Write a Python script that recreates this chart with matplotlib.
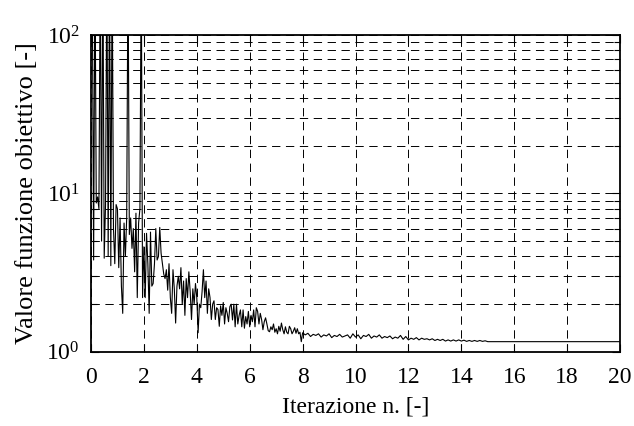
import numpy as np
import matplotlib.pyplot as plt

plt.rcParams['font.family'] = ['Liberation Serif', 'DejaVu Serif']
plt.rcParams['mathtext.fontset'] = 'custom'
plt.rcParams['mathtext.rm'] = 'Liberation Serif'
plt.rcParams['mathtext.it'] = 'Liberation Serif:italic'
plt.rcParams['lines.scale_dashes'] = False

# objective function value per iteration (step 0.05 up to 8, then 0.1)
f_0_2 = [300, 200, 3.8, 300, 8.7, 9.5, 8.0, 300, 5.0, 300,
         3.9, 8.5, 300, 4.0, 300, 3.5, 300, 6.0, 3.6, 8.5,
         8.0, 3.4, 7.0, 2.6, 1.75, 6.5, 4.0, 7.0, 300, 5.5,
         7.0, 4.5, 6.0, 3.2, 7.5, 2.2, 6.5, 8.0, 300, 2.2, 4.6]
f_2_4 = [2.2, 5.6, 3.6, 1.75, 5.7, 2.6, 2.7, 3.6, 6.0, 3.8,
         4.0, 6.1, 4.2, 3.6, 3.1, 2.9, 3.3, 2.45, 3.6, 2.2,
         1.75, 3.3, 2.5, 1.52, 2.6, 3.0, 2.5, 3.4, 2.0, 2.8,
         1.7, 2.9, 2.2, 3.2, 2.4, 1.6, 2.5, 2.0, 2.7, 2.2]
f_4_5 = [1.32, 2.0, 1.9, 2.4, 3.3, 2.2, 2.8, 1.75, 2.5, 2.2,
         1.6, 2.0, 2.1, 1.6, 1.9, 1.85, 1.45, 1.95, 1.7, 2.05,
         1.5, 1.9, 1.75, 1.55, 1.93]
f_5_8 = [2.0, 1.59, 2.0, 1.44, 2.0, 1.5, 1.7, 1.84, 1.44, 1.84,
         1.41, 1.67, 1.5, 1.8, 1.44, 1.7, 1.55, 1.84, 1.44, 1.9,
         1.8, 1.5, 1.75, 1.6, 1.38, 1.55, 1.64, 1.5, 1.36, 1.34,
         1.44, 1.38, 1.5, 1.33, 1.4, 1.30, 1.45, 1.35, 1.52, 1.38,
         1.3, 1.44, 1.33, 1.3, 1.45, 1.4, 1.3, 1.35, 1.42, 1.31,
         1.4, 1.3, 1.33, 1.16, 1.32]
f_8_15 = [1.28, 1.31, 1.25, 1.29, 1.27, 1.3, 1.24, 1.28, 1.26, 1.3,
          1.23, 1.27, 1.25, 1.29, 1.24, 1.26, 1.28, 1.22, 1.3, 1.24,
          1.28, 1.21, 1.27, 1.25, 1.29, 1.22, 1.26, 1.24, 1.28, 1.22,
          1.25, 1.23, 1.26, 1.21, 1.24, 1.22, 1.27, 1.20, 1.25, 1.19,
          1.22, 1.20, 1.23, 1.19, 1.22, 1.20, 1.21, 1.19, 1.21, 1.18,
          1.2, 1.18, 1.2, 1.17, 1.19, 1.17, 1.19, 1.17, 1.19, 1.17,
          1.185, 1.165, 1.18, 1.165, 1.18, 1.165, 1.18, 1.165, 1.175, 1.16]
f_end = 1.16

f_fine = f_0_2 + f_2_4 + f_4_5 + f_5_8
x_fine = np.linspace(0, 8, len(f_fine))
x_coarse = np.linspace(8.1, 15.0, len(f_8_15))
x = np.concatenate([x_fine, x_coarse, [20.0]])
y = np.array(f_fine + f_8_15 + [f_end])

fig = plt.figure(figsize=(6.34, 4.26), dpi=100)
ax = fig.add_axes([0.1435, 0.174, 0.8345, 0.744])

ax.plot(x, y, color='black', lw=0.8)
ax.set_yscale('log')
ax.set_xlim(0, 20)
ax.set_ylim(1, 100)
ax.set_xticks(np.arange(0, 21, 2))

ax.grid(True, which='major', color='black', ls=(0, (6, 4)), lw=0.7)
ax.grid(True, which='minor', axis='y', color='black', ls=(0, (6, 4)), lw=0.7)

ax.tick_params(which='both', direction='in', top=True, right=True,
               labelsize=17, width=0.8)
ax.tick_params(which='major', length=6)
ax.tick_params(which='minor', length=4)
ax.tick_params(axis='x', which='major', pad=11)
ax.tick_params(axis='y', which='major', pad=8)
for s in ax.spines.values():
    s.set_linewidth(1.3)

ax.set_xlabel('Iterazione n. [-]', fontsize=17, labelpad=6)
ax.set_ylabel('Valore funzione obiettivo [-]', fontsize=19, labelpad=6)

fig.savefig('out.png', dpi=100)
